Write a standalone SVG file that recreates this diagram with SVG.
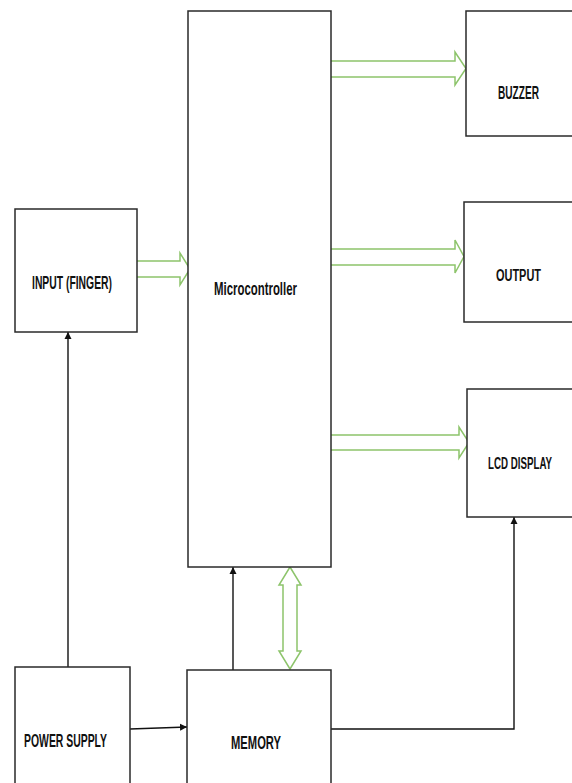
<svg xmlns="http://www.w3.org/2000/svg" width="572" height="783" viewBox="0 0 572 783">
<defs>
<style>
.box{fill:#fff;stroke:#2a2a2a;stroke-width:1.5}
.wire{fill:none;stroke:#111;stroke-width:1.4}
.bus{fill:#fff;stroke:#8dc46b;stroke-width:1.5;stroke-linejoin:miter}
.lbl{font-family:"Liberation Sans",Arial,sans-serif;font-weight:bold;fill:#111}
</style>
<marker id="ah" viewBox="0 0 10 10" refX="10" refY="5" markerWidth="7" markerHeight="8" markerUnits="userSpaceOnUse" orient="auto">
<path d="M0,0 L10,5 L0,10 z" fill="#111"/>
</marker>
</defs>
<rect width="572" height="783" fill="#fff"/>
<g id="connectors">
<path class="bus" d="M137,261 L180,261 L180,253 L190,269 L180,285 L180,277 L137,277"/>
<path class="bus" d="M331,61 L455,61 L455,52 L466,68.5 L455,85 L455,77 L331,77"/>
<path class="bus" d="M331,249 L455,249 L455,240 L464,256.5 L455,273 L455,265 L331,265"/>
<path class="bus" d="M331,435 L459,435 L459,427 L469,442.5 L459,458 L459,450 L331,450"/>
<path class="bus" d="M290,567 L301,585 L297,585 L297,651 L301,651 L290,669 L279,651 L283,651 L283,585 L279,585 Z"/>
<line class="wire" x1="68" y1="667" x2="68" y2="332" marker-end="url(#ah)"/>
<line class="wire" x1="130" y1="729" x2="187" y2="727" marker-end="url(#ah)"/>
<line class="wire" x1="233" y1="670" x2="233" y2="567" marker-end="url(#ah)"/>
<polyline class="wire" points="331,729 514,729 514,517" marker-end="url(#ah)"/>
</g>
<g id="microcontroller">
<rect class="box" x="188" y="11" width="143" height="556"/>
<text class="lbl" transform="translate(214,295) scale(0.6,1)" font-size="17.5" textLength="138.3" lengthAdjust="spacingAndGlyphs">Microcontroller</text>
</g>
<g id="input">
<rect class="box" x="15" y="209" width="122" height="123"/>
<text class="lbl" transform="translate(32,289) scale(0.6,1)" font-size="17.5" textLength="133.3" lengthAdjust="spacingAndGlyphs">INPUT (FINGER)</text>
</g>
<g id="buzzer">
<rect class="box" x="466" y="11" width="120" height="125"/>
<text class="lbl" transform="translate(498,99) scale(0.6,1)" font-size="19" textLength="68.3" lengthAdjust="spacingAndGlyphs">BUZZER</text>
</g>
<g id="output">
<rect class="box" x="464" y="202" width="120" height="120"/>
<text class="lbl" transform="translate(496,281) scale(0.6,1)" font-size="17" textLength="75" lengthAdjust="spacingAndGlyphs">OUTPUT</text>
</g>
<g id="lcd">
<rect class="box" x="467" y="389" width="120" height="128"/>
<text class="lbl" transform="translate(488,469) scale(0.6,1)" font-size="16" textLength="106.7" lengthAdjust="spacingAndGlyphs">LCD DISPLAY</text>
</g>
<g id="power">
<rect class="box" x="15" y="667" width="115" height="130"/>
<text class="lbl" transform="translate(24,747) scale(0.6,1)" font-size="18.5" textLength="138.3" lengthAdjust="spacingAndGlyphs">POWER SUPPLY</text>
</g>
<g id="memory">
<rect class="box" x="187" y="670" width="144" height="130"/>
<text class="lbl" transform="translate(231,749) scale(0.6,1)" font-size="19" textLength="83.3" lengthAdjust="spacingAndGlyphs">MEMORY</text>
</g>
</svg>
